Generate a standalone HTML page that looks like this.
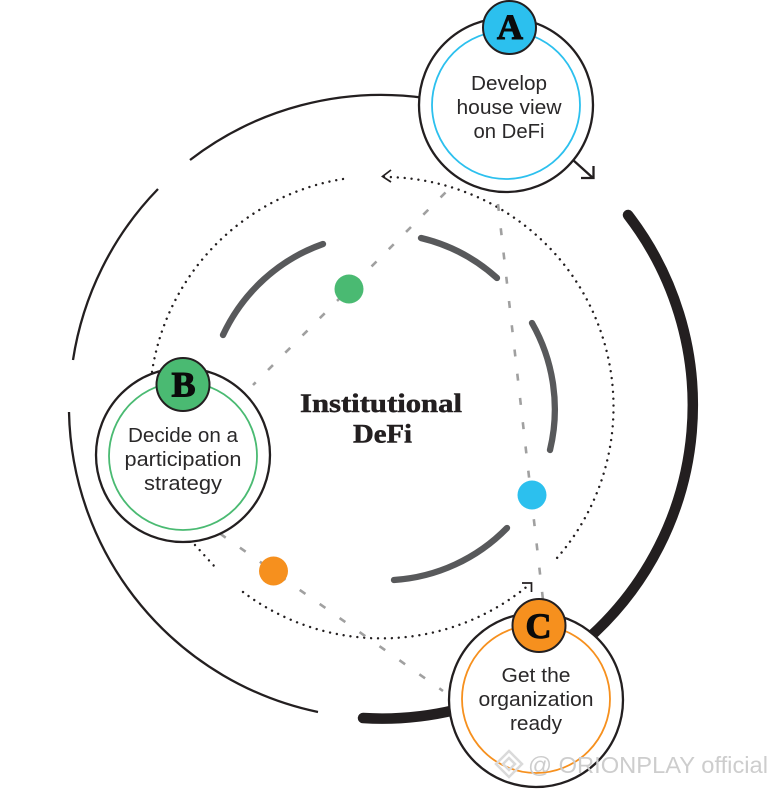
<!DOCTYPE html>
<html>
<head>
<meta charset="utf-8">
<style>
html,body{margin:0;padding:0;background:#fff;width:776px;height:790px;overflow:hidden}
svg{display:block}
.lbl{font-family:"Liberation Sans",sans-serif;font-size:20px;fill:#2a2829;text-anchor:middle}
.ltr{font-family:"Liberation Serif",serif;font-weight:bold;font-size:36px;fill:#0b0b0b;text-anchor:middle;stroke:#0b0b0b;stroke-width:1.1}
.ttl{font-family:"Liberation Serif",serif;font-weight:bold;font-size:26px;fill:#231f20;text-anchor:middle;stroke:#231f20;stroke-width:.5}
</style>
</head>
<body>
<svg width="776" height="790" viewBox="0 0 776 790" xmlns="http://www.w3.org/2000/svg">
<g fill="none" stroke="#231f20" stroke-width="2.300">
<path d="M425 98 A313 313 0 0 0 190 160"/>
<path d="M158 189 A313 313 0 0 0 73 360"/>
<path d="M69 412 A313 313 0 0 0 318 712"/>
<path d="M573 160 L593 178 M581 178 H593.500 V166"/>
</g>
<g fill="none" stroke="#231f20" stroke-width="10.500" stroke-linecap="round">
<path d="M628 215 A312 312 0 0 1 592 635"/>
<path d="M455 710 A313 313 0 0 1 363 718"/>
</g>
<g fill="none" stroke="#58595b" stroke-width="6.300" stroke-linecap="round">
<path d="M323 244 A174 174 0 0 0 223 335"/>
<path d="M421 238 A174 174 0 0 1 497 278"/>
<path d="M532 323 A174 174 0 0 1 550 450"/>
<path d="M507 528 A174 174 0 0 1 394 580"/>
</g>
<g fill="none" stroke="#231f20" stroke-width="2.400" stroke-linecap="round" stroke-dasharray="0.01 6.900">
<path d="M343 179 A230 230 0 0 0 152 372"/>
<path d="M384 177 A230 230 0 0 1 557 558"/>
<path d="M195 545 L215 567"/>
<path d="M243 592 A230 230 0 0 0 530 584"/>
</g>
<g fill="none" stroke="#231f20" stroke-width="1.700">
<path d="M391 170 L382.500 176.500 L391 182"/>
<path d="M522 583 H531.500 V592"/>
</g>
<g fill="none" stroke="#a0a0a0" stroke-width="2.600" stroke-dasharray="7 17.400">
<path d="M445.500 192.500 L253 385"/>
<path d="M220 533.600 L443 691"/>
<path d="M498 204 L543 600"/>
</g>
<circle cx="349" cy="289" r="14.500" fill="#4aba72"/>
<circle cx="273.500" cy="571" r="14.500" fill="#f6901e"/>
<circle cx="532" cy="495" r="14.500" fill="#2cc0ee"/>

<g stroke="#231f20" stroke-width="2.300" fill="#fff">
<circle cx="506" cy="105" r="87"/>
<circle cx="183" cy="455" r="87"/>
<circle cx="536" cy="700" r="87"/>
</g>
<g fill="none" stroke-width="1.800">
<circle cx="506" cy="105" r="74" stroke="#2cc0ee"/>
<circle cx="183" cy="456" r="74" stroke="#4aba72"/>
<circle cx="536" cy="699" r="74" stroke="#f6901e"/>
</g>
<g stroke="#231f20" stroke-width="2">
<circle cx="509.500" cy="27.500" r="26.500" fill="#2cc0ee"/>
<circle cx="183" cy="384.500" r="26.500" fill="#4aba72"/>
<circle cx="539" cy="625.500" r="26.500" fill="#f6901e"/>
</g>
<text class="ltr" x="510" y="39">A</text>
<text class="ltr" x="183.500" y="396.500">B</text>
<text class="ltr" x="538.500" y="638">C</text>

<text class="lbl" x="509" y="90" textLength="76" lengthAdjust="spacingAndGlyphs">Develop</text>
<text class="lbl" x="509" y="114" textLength="105" lengthAdjust="spacingAndGlyphs">house view</text>
<text class="lbl" x="509" y="138" textLength="71" lengthAdjust="spacingAndGlyphs">on DeFi</text>

<text class="lbl" x="183" y="442" textLength="110" lengthAdjust="spacingAndGlyphs">Decide on a</text>
<text class="lbl" x="183" y="466" textLength="117" lengthAdjust="spacingAndGlyphs">participation</text>
<text class="lbl" x="183" y="490" textLength="78" lengthAdjust="spacingAndGlyphs">strategy</text>

<text class="lbl" x="536" y="682" textLength="69" lengthAdjust="spacingAndGlyphs">Get the</text>
<text class="lbl" x="536" y="706" textLength="115" lengthAdjust="spacingAndGlyphs">organization</text>
<text class="lbl" x="536" y="730" textLength="52" lengthAdjust="spacingAndGlyphs">ready</text>

<text class="ttl" x="381" y="412" textLength="162" lengthAdjust="spacingAndGlyphs">Institutional</text>
<text class="ttl" x="382.500" y="442.500" textLength="59" lengthAdjust="spacingAndGlyphs">DeFi</text>

<g fill="none" stroke="#dadada" stroke-width="2.500">
<path d="M509 751 L522 764 L509 777 L496 764 Z M509 758 L515 764 L509 770 L503 764 Z"/>
</g>
<text x="528" y="773" font-family="'Liberation Sans',sans-serif" font-size="23" fill="#cdcdcd" textLength="240" lengthAdjust="spacingAndGlyphs">@ ORIONPLAY official</text>
</svg>
</body>
</html>
